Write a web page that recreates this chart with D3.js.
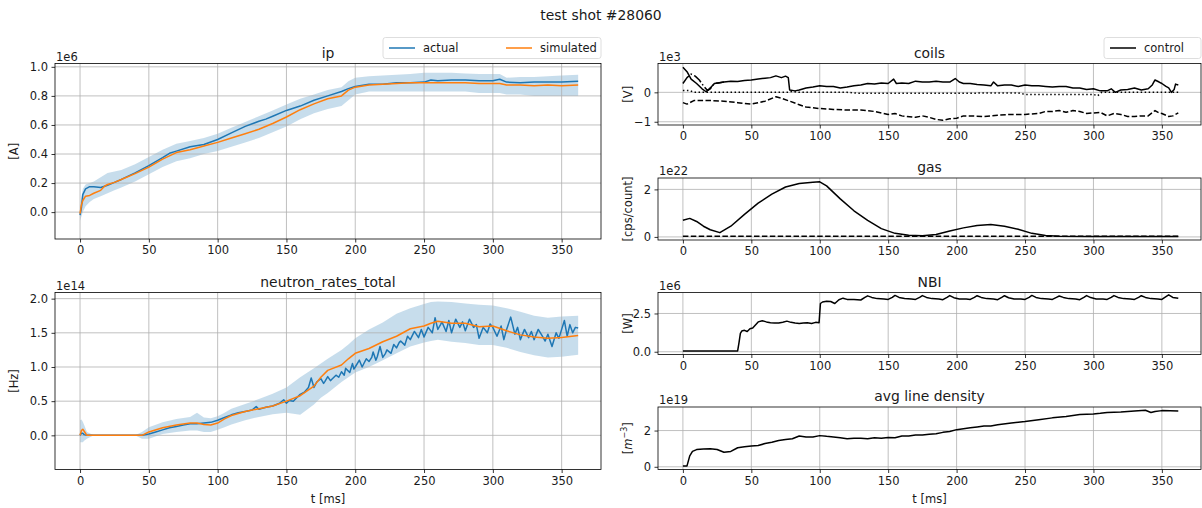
<!DOCTYPE html>
<html>
<head>
<meta charset="utf-8">
<script src="https://cdn.jsdelivr.net/npm/d3@7"></script>
<style>
  body { margin: 0; background: #fff; }
  text { font-family: 'DejaVu Sans', sans-serif; fill: #1a1a1a; }
</style>
</head>
<body>
<div id="chart"></div>
<script>
// ---- data (times in ms, values in units of the panel exponent) ----
const xTicks = [0, 50, 100, 150, 200, 250, 300, 350];

// ip [1e6 A]
const ipActual = [[0,-0.02],[1,0.03],[2,0.12],[4,0.16],[7,0.175],[10,0.175],[15,0.17],[20,0.185],[25,0.205],[30,0.225],[40,0.27],[50,0.32],[60,0.375],[65,0.405],[70,0.42],[80,0.45],[90,0.465],[100,0.5],[110,0.545],[120,0.59],[130,0.625],[135,0.64],[140,0.66],[150,0.7],[160,0.73],[170,0.77],[180,0.8],[190,0.83],[195,0.85],[200,0.865],[210,0.88],[220,0.88],[230,0.89],[240,0.89],[250,0.895],[255,0.91],[260,0.905],[270,0.91],[280,0.91],[290,0.905],[300,0.905],[305,0.915],[310,0.895],[320,0.89],[330,0.895],[340,0.895],[350,0.895],[362,0.9]];
const ipSimulated = [[0,-0.01],[1,0.05],[2,0.08],[4,0.11],[7,0.115],[10,0.13],[15,0.15],[18,0.18],[20,0.19],[25,0.205],[30,0.225],[40,0.265],[50,0.31],[60,0.365],[70,0.41],[80,0.43],[90,0.455],[100,0.48],[110,0.51],[120,0.54],[130,0.57],[140,0.61],[150,0.655],[160,0.705],[170,0.745],[180,0.78],[190,0.8],[195,0.84],[200,0.86],[210,0.875],[220,0.88],[230,0.885],[240,0.89],[250,0.89],[260,0.89],[270,0.89],[280,0.89],[290,0.885],[300,0.885],[305,0.885],[310,0.875],[320,0.875],[330,0.87],[340,0.875],[350,0.87],[362,0.875]];
const ipBand = [[0,-0.06,0.05],[1,-0.03,0.1],[2,0,0.16],[4,0.04,0.19],[7,0.07,0.2],[10,0.09,0.21],[15,0.11,0.24],[20,0.13,0.27],[25,0.15,0.28],[30,0.17,0.29],[40,0.21,0.33],[50,0.26,0.38],[60,0.31,0.43],[70,0.35,0.47],[80,0.37,0.49],[90,0.4,0.51],[100,0.42,0.54],[110,0.45,0.58],[120,0.48,0.62],[130,0.51,0.66],[140,0.55,0.7],[150,0.59,0.74],[160,0.64,0.78],[170,0.68,0.81],[180,0.71,0.84],[190,0.73,0.86],[195,0.77,0.9],[200,0.81,0.925],[210,0.83,0.935],[220,0.83,0.94],[230,0.83,0.945],[240,0.83,0.95],[250,0.83,0.96],[260,0.83,0.96],[270,0.83,0.96],[280,0.83,0.955],[290,0.82,0.95],[300,0.82,0.95],[305,0.82,0.95],[310,0.81,0.925],[320,0.81,0.93],[330,0.8,0.93],[340,0.8,0.935],[350,0.8,0.94],[362,0.8,0.945]];

// neutron_rates_total [1e14 Hz]
const neutronActual = [[0,0],[1,0.03],[2,0.03],[3,0.01],[5,0],[10,0],[20,0],[30,0],[40,0],[45,0],[50,0.02],[55,0.05],[60,0.08],[65,0.11],[70,0.13],[75,0.15],[80,0.17],[85,0.17],[90,0.18],[95,0.19],[100,0.22],[105,0.26],[110,0.3],[115,0.33],[120,0.35],[125,0.37],[128,0.42],[130,0.38],[135,0.41],[140,0.43],[145,0.47],[148,0.52],[150,0.47],[152,0.51],[155,0.5],[158,0.56],[160,0.6],[163,0.63],[166,0.7],[168,0.84],[170,0.7],[172,0.78],[175,0.83],[177,0.76],[178,0.79],[180,0.86],[182,0.8],[183,0.82],[186,0.88],[188,0.85],[190,0.93],[192,0.88],[193,0.98],[196,0.92],[198,1.05],[199,0.97],[200,1.0],[203,1.1],[205,1.0],[206,1.04],[208,1.12],[210,1.08],[212,1.14],[213,1.22],[215,1.1],[216,1.15],[218,1.3],[220,1.14],[222,1.2],[223,1.25],[226,1.2],[228,1.33],[230,1.28],[232,1.36],[233,1.38],[236,1.32],[238,1.45],[240,1.4],[242,1.48],[243,1.52],[246,1.43],[248,1.55],[250,1.44],[253,1.58],[256,1.5],[258,1.72],[260,1.55],[262,1.62],[263,1.66],[266,1.52],[268,1.68],[270,1.5],[273,1.7],[276,1.58],[278,1.66],[280,1.53],[283,1.7],[286,1.58],[288,1.62],[290,1.42],[293,1.58],[296,1.5],[298,1.63],[300,1.58],[303,1.45],[306,1.6],[308,1.4],[310,1.55],[313,1.73],[316,1.48],[318,1.58],[320,1.4],[323,1.55],[326,1.43],[328,1.52],[330,1.4],[333,1.55],[336,1.45],[338,1.38],[340,1.48],[343,1.3],[346,1.5],[348,1.42],[350,1.55],[352,1.68],[354,1.45],[356,1.62],[358,1.5],[360,1.58],[362,1.57]];
const neutronSimulated = [[0,0],[1,0.07],[2,0.09],[3,0.06],[5,0],[10,0],[20,0],[30,0],[40,0],[45,0],[50,0.05],[60,0.11],[70,0.15],[80,0.18],[85,0.18],[90,0.16],[95,0.15],[100,0.18],[105,0.24],[110,0.29],[120,0.35],[130,0.39],[140,0.43],[150,0.5],[160,0.58],[170,0.72],[175,0.85],[180,0.95],[190,1.03],[195,1.12],[200,1.2],[210,1.27],[220,1.37],[230,1.45],[240,1.56],[250,1.6],[255,1.64],[260,1.67],[270,1.64],[280,1.64],[290,1.59],[300,1.6],[310,1.53],[320,1.47],[330,1.44],[340,1.42],[350,1.43],[362,1.46]];
const neutronBand = [[0,-0.1,0.22],[1,-0.1,0.23],[2,-0.1,0.2],[3,-0.08,0.15],[5,-0.05,0.05],[10,0,0],[20,0,0],[30,0,0],[40,0,0],[45,-0.05,0.05],[50,-0.05,0.12],[60,0.02,0.19],[70,0.05,0.24],[80,0.07,0.27],[85,0.07,0.33],[90,0.05,0.26],[95,0.05,0.25],[100,0.08,0.28],[105,0.12,0.33],[110,0.16,0.39],[120,0.22,0.46],[130,0.27,0.53],[140,0.31,0.61],[150,0.33,0.7],[160,0.3,0.85],[170,0.45,0.98],[175,0.55,1.05],[180,0.62,1.12],[190,0.78,1.25],[195,0.85,1.33],[200,0.92,1.42],[210,1.0,1.55],[220,1.1,1.65],[230,1.2,1.78],[240,1.3,1.86],[250,1.36,1.92],[255,1.38,1.95],[260,1.4,1.96],[270,1.37,1.95],[280,1.35,1.93],[290,1.32,1.91],[300,1.32,1.9],[310,1.28,1.86],[320,1.22,1.81],[330,1.17,1.75],[340,1.14,1.72],[350,1.15,1.74],[362,1.18,1.75]];

// coils [1e3 V]
const coilsControl = [[0,0.85],[3,0.7],[6,0.45],[10,0.3],[14,0.12],[17,0.02],[20,0.15],[23,0.3],[30,0.35],[35,0.38],[40,0.37],[45,0.4],[50,0.42],[55,0.45],[60,0.48],[64,0.5],[68,0.56],[72,0.5],[75,0.55],[77,0.5],[78,0.08],[82,0.05],[85,0.08],[90,0.15],[95,0.18],[100,0.22],[105,0.2],[110,0.2],[115,0.15],[120,0.18],[125,0.22],[130,0.25],[135,0.3],[140,0.28],[145,0.32],[150,0.3],[154,0.45],[156,0.3],[160,0.32],[165,0.3],[170,0.38],[175,0.35],[180,0.35],[185,0.38],[190,0.35],[195,0.35],[199,0.47],[202,0.35],[205,0.3],[210,0.3],[215,0.27],[220,0.25],[225,0.22],[227,0.35],[230,0.22],[235,0.25],[240,0.25],[245,0.2],[250,0.25],[255,0.22],[260,0.22],[265,0.2],[270,0.18],[275,0.2],[280,0.2],[285,0.15],[290,0.15],[295,0.1],[300,0.12],[305,0.05],[310,0.05],[313,0.12],[316,0.0],[320,0.08],[325,0.1],[330,0.15],[335,0.08],[340,0.12],[343,0.25],[345,0.42],[348,0.35],[350,0.3],[353,0.2],[355,0.15],[357,0.0],[359,0.1],[360,0.28],[362,0.25]];
const coilsDashDot = [[0,0.3],[3,0.5],[6,0.62],[9,0.55],[12,0.42],[15,0.22],[18,0.06],[20,0.12],[23,0.3],[26,0.32],[30,0.35]];
const coilsDotted = [[0,0.06],[5,0.06],[8,0.0],[20,0.0],[40,0.0],[60,0.0],[76,0.0],[80,0.03],[85,0.0],[120,0.0],[128,-0.03],[200,-0.03],[245,-0.02],[250,-0.07],[300,-0.07],[303,-0.12],[306,0.0],[340,0.0],[362,0.0]];
const coilsDashed = [[0,-0.35],[3,-0.4],[8,-0.28],[20,-0.28],[30,-0.3],[40,-0.35],[50,-0.4],[60,-0.3],[68,-0.15],[72,-0.2],[78,-0.3],[85,-0.42],[90,-0.5],[100,-0.55],[110,-0.58],[120,-0.6],[130,-0.6],[140,-0.65],[150,-0.75],[155,-0.72],[160,-0.8],[170,-0.85],[175,-0.8],[180,-0.85],[185,-0.92],[190,-0.95],[195,-0.9],[200,-0.88],[205,-0.8],[210,-0.8],[220,-0.82],[230,-0.78],[240,-0.75],[250,-0.75],[260,-0.72],[265,-0.65],[270,-0.65],[275,-0.62],[280,-0.68],[285,-0.62],[290,-0.65],[295,-0.72],[300,-0.7],[305,-0.68],[310,-0.8],[315,-0.72],[320,-0.75],[325,-0.82],[330,-0.82],[335,-0.8],[340,-0.8],[345,-0.62],[348,-0.7],[350,-0.72],[355,-0.82],[358,-0.8],[362,-0.7]];

// gas [1e22 cps/count]
const gasMain = [[0,0.7],[5,0.78],[10,0.65],[15,0.45],[20,0.3],[27,0.18],[35,0.45],[45,0.95],[55,1.42],[65,1.8],[75,2.1],[85,2.25],[95,2.3],[100,2.32],[105,2.15],[115,1.6],[125,1.1],[135,0.7],[145,0.35],[155,0.15],[165,0.07],[175,0.05],[185,0.1],[195,0.25],[205,0.38],[215,0.48],[225,0.52],[235,0.45],[245,0.32],[255,0.15],[265,0.06],[275,0.03],[300,0.02],[362,0.02]];
const gasDashed = [[0,0.03],[100,0.03],[200,0.03],[300,0.03],[362,0.03]];

// NBI [1e6 W]
const nbi = [[0,0.05],[40,0.05],[41,0.6],[42,1.2],[43,1.35],[45,1.4],[47,1.32],[49,1.5],[51,1.55],[53,1.75],[55,1.95],[58,2.02],[61,1.95],[64,1.9],[67,1.88],[70,1.88],[73,1.93],[76,2.0],[79,1.92],[82,1.88],[85,1.85],[88,1.88],[91,1.9],[94,1.85],[97,1.92],[99.5,1.9],[100.5,3.15],[102,3.25],[105,3.3],[108,3.28],[111,3.15],[114,3.4],[117,3.5],[120,3.42],[125,3.42],[130,3.38],[133,3.55],[135,3.65],[138,3.55],[142,3.47],[147,3.45],[150,3.42],[153,3.55],[155,3.68],[158,3.55],[162,3.48],[167,3.45],[170,3.42],[173,3.55],[175,3.67],[178,3.55],[182,3.47],[187,3.45],[190,3.4],[193,3.55],[195,3.67],[198,3.53],[202,3.45],[207,3.45],[210,3.42],[213,3.55],[215,3.66],[218,3.55],[222,3.47],[227,3.45],[230,3.4],[233,3.55],[235,3.66],[238,3.53],[242,3.45],[247,3.45],[250,3.42],[253,3.55],[255,3.68],[258,3.55],[262,3.47],[267,3.45],[270,3.42],[273,3.55],[275,3.64],[278,3.55],[282,3.47],[287,3.45],[290,3.4],[293,3.55],[295,3.67],[298,3.54],[302,3.45],[307,3.45],[310,3.42],[313,3.55],[315,3.67],[318,3.55],[322,3.47],[327,3.45],[330,3.42],[333,3.55],[335,3.66],[338,3.55],[342,3.47],[347,3.45],[350,3.42],[353,3.6],[355,3.72],[358,3.55],[362,3.5]];

// avg line density [1e19 m^-3]
const density = [[0,0.05],[3,0.05],[5,0.6],[7,0.85],[10,0.95],[15,0.98],[20,1.0],[25,0.95],[30,0.8],[35,0.85],[40,1.05],[45,1.1],[50,1.15],[55,1.18],[60,1.28],[65,1.35],[70,1.45],[75,1.5],[80,1.55],[85,1.7],[90,1.65],[95,1.65],[100,1.72],[105,1.68],[110,1.65],[115,1.6],[120,1.55],[125,1.58],[130,1.58],[135,1.55],[140,1.6],[145,1.58],[150,1.62],[155,1.6],[160,1.7],[165,1.7],[170,1.75],[175,1.75],[180,1.8],[185,1.82],[190,1.9],[195,1.95],[200,2.05],[205,2.1],[210,2.15],[215,2.2],[220,2.25],[225,2.25],[230,2.32],[240,2.42],[250,2.5],[260,2.6],[270,2.7],[280,2.78],[290,2.88],[300,2.92],[305,2.95],[310,3.0],[320,3.02],[330,3.08],[338,3.12],[342,3.0],[345,3.05],[350,3.1],[362,3.08]];

// ---- layout ----
const W = 1202, H = 508;
const C0 = '#1f77b4', C1 = '#ff7f0e';
const FS = '11.5px', TS = '13.9px';
const svg = d3.select('#chart').append('svg').attr('width', W).attr('height', H);

svg.append('text').attr('x', 601).attr('y', 20).attr('text-anchor', 'middle')
  .style('font-size', TS).text('test shot #28060');

function makePanel(box, yDomain, yTicks, yFormat, title, exponent, yLabelX, showXLabel) {
  const g = svg.append('g');
  const x = d3.scaleLinear().domain([-18.2, 378.6]).range([box.x0, box.x1]);
  const y = d3.scaleLinear().domain(yDomain).range([box.y1, box.y0]);
  const back = g.append('g');
  const grid = g.append('g');
  const marks = g.append('g');

  grid.selectAll('.gx').data(xTicks).enter().append('line')
    .attr('x1', (d) => x(d)).attr('x2', (d) => x(d))
    .attr('y1', box.y0).attr('y2', box.y1)
    .style('stroke', '#b0b0b0').style('stroke-width', 0.8);
  grid.selectAll('.gy').data(yTicks).enter().append('line')
    .attr('x1', box.x0).attr('x2', box.x1)
    .attr('y1', (d) => y(d)).attr('y2', (d) => y(d))
    .style('stroke', '#b0b0b0').style('stroke-width', 0.8);

  const xa = g.append('g').attr('transform', `translate(0,${box.y1})`)
    .call(d3.axisBottom(x).tickValues(xTicks).tickSize(3.5).tickPadding(3.5));
  const ya = g.append('g').attr('transform', `translate(${box.x0},0)`)
    .call(d3.axisLeft(y).tickValues(yTicks).tickFormat(yFormat).tickSize(3.5).tickPadding(3.5));
  [xa, ya].forEach((a) => {
    a.select('.domain').remove();
    a.selectAll('line').style('stroke', '#000').style('stroke-width', 0.8);
    a.selectAll('text').style('font-size', FS).style('font-family', 'DejaVu Sans, sans-serif').attr('fill', '#1a1a1a');
  });

  g.append('rect').attr('x', box.x0).attr('y', box.y0)
    .attr('width', box.x1 - box.x0).attr('height', box.y1 - box.y0)
    .style('fill', 'none').style('stroke', '#000').style('stroke-width', 0.8);

  g.append('text').attr('x', (box.x0 + box.x1) / 2).attr('y', box.y0 - 6)
    .attr('text-anchor', 'middle').style('font-size', TS).text(title);
  g.append('text').attr('x', box.x0 + 1).attr('y', box.y0 - 3)
    .style('font-size', FS).text(exponent);

  const yl = g.append('text')
    .attr('transform', `translate(${yLabelX},${(box.y0 + box.y1) / 2}) rotate(-90)`)
    .attr('text-anchor', 'middle').style('font-size', FS);

  if (showXLabel) {
    g.append('text').attr('x', (box.x0 + box.x1) / 2).attr('y', box.y1 + 33)
      .attr('text-anchor', 'middle').style('font-size', FS).text('t [ms]');
  }
  return { x, y, back, marks, yl };
}

function drawLine(p, data, color, dash) {
  p.marks.append('path').datum(data)
    .attr('d', d3.line().x((d) => p.x(d[0])).y((d) => p.y(d[1])))
    .style('fill', 'none').style('stroke', color).style('stroke-width', 1.5)
    .style('stroke-linejoin', 'round')
    .style('stroke-dasharray', dash || null);
}

function drawBand(p, data) {
  p.back.append('path').datum(data)
    .attr('d', d3.area().x((d) => p.x(d[0])).y0((d) => p.y(d[1])).y1((d) => p.y(d[2])))
    .style('fill', C0).style('fill-opacity', 0.25);
}

const f1 = d3.format('.1f');
const fd = d3.format('d');

const L = { x0: 55, x1: 601 };
const R = { x0: 658, x1: 1201 };

// ip
const pIp = makePanel({ ...L, y0: 63.5, y1: 239 }, [-0.185, 1.023], [0, 0.2, 0.4, 0.6, 0.8, 1.0], f1, 'ip', '1e6', 18, false);
pIp.yl.text('[A]');
drawBand(pIp, ipBand);
drawLine(pIp, ipActual, C0);
drawLine(pIp, ipSimulated, C1);

// neutron
const pN = makePanel({ ...L, y0: 292.5, y1: 469.5 }, [-0.5, 2.09], [0, 0.5, 1.0, 1.5, 2.0], f1, 'neutron_rates_total', '1e14', 18, true);
pN.yl.text('[Hz]');
drawBand(pN, neutronBand);
drawLine(pN, neutronActual, C0);
drawLine(pN, neutronSimulated, C1);

// coils
const pC = makePanel({ ...R, y0: 63.5, y1: 125 }, [-1.11, 0.98], [-1, 0], fd, 'coils', '1e3', 632, false);
pC.yl.text('[V]');
drawLine(pC, coilsDotted, '#000', '1.5,2.5');
drawLine(pC, coilsDashed, '#000', '5.5,2.4');
drawLine(pC, coilsDashDot, '#000', '9.6,2.4,1.5,2.4');
drawLine(pC, coilsControl, '#000');

// gas
const pG = makePanel({ ...R, y0: 178, y1: 240 }, [-0.13, 2.48], [0, 2], fd, 'gas', '1e22', 632, false);
pG.yl.text('[cps/count]');
drawLine(pG, gasDashed, '#000', '5.5,2.4');
drawLine(pG, gasMain, '#000');

// NBI
const pB = makePanel({ ...R, y0: 292.5, y1: 354.5 }, [-0.18, 3.87], [0, 2.5], f1, 'NBI', '1e6', 632, false);
pB.yl.text('[W]');
drawLine(pB, nbi, '#000');

// density
const pD = makePanel({ ...R, y0: 407, y1: 469.5 }, [-0.15, 3.3], [0, 2], fd, 'avg line density', '1e19', 632, true);
pD.yl.append('tspan').text('[');
pD.yl.append('tspan').style('font-style', 'italic').text('m');
pD.yl.append('tspan').attr('dy', -5).style('font-size', '8px').text('−3');
pD.yl.append('tspan').attr('dy', 5).text(']');
drawLine(pD, density, '#000');

// legends
function legend(x0, y0, w, items) {
  const g = svg.append('g');
  g.append('rect').attr('x', x0).attr('y', y0).attr('width', w).attr('height', 21)
    .attr('rx', 2.5).style('fill', '#fff').style('fill-opacity', 0.8)
    .style('stroke', '#d6d6d6').style('stroke-width', 0.8);
  items.forEach((it) => {
    g.append('line').attr('x1', it.x).attr('x2', it.x + 26).attr('y1', y0 + 10.5).attr('y2', y0 + 10.5)
      .style('stroke', it.color).style('stroke-width', 1.5);
    g.append('text').attr('x', it.x + 34).attr('y', y0 + 14.5).style('font-size', FS).text(it.label);
  });
}
legend(383, 37.5, 218, [{ x: 389, color: C0, label: 'actual' }, { x: 506, color: C1, label: 'simulated' }]);
legend(1104, 37.5, 97, [{ x: 1110, color: '#000', label: 'control' }]);
</script>
</body>
</html>
